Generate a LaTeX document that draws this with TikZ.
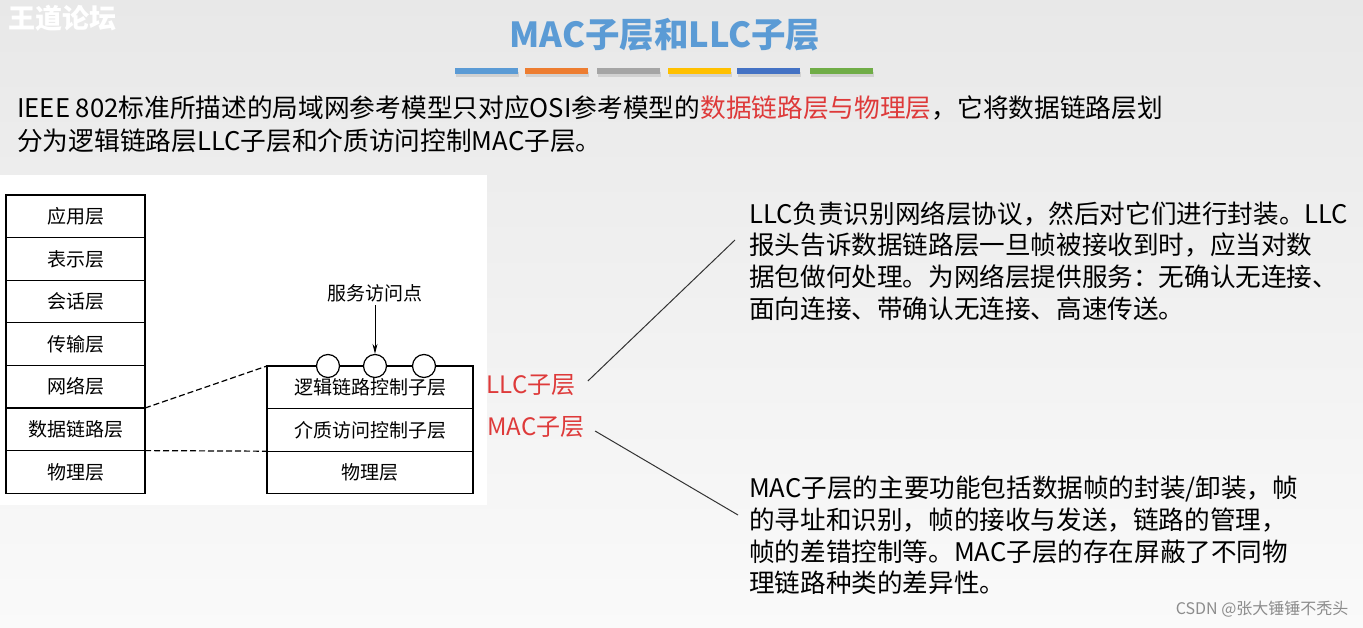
\documentclass[tikz,border=0pt]{standalone}
\usepackage{fontspec}
\setmainfont{Noto Sans CJK SC}
\usepackage{tikz}
\usetikzlibrary{positioning,arrows.meta}
\definecolor{titleblue}{RGB}{91,155,213}
\definecolor{textred}{RGB}{222,58,58}
\definecolor{barblue}{RGB}{91,155,213}
\definecolor{barorange}{RGB}{237,125,49}
\definecolor{bargray}{RGB}{165,165,165}
\definecolor{bargold}{RGB}{255,192,0}
\definecolor{bardark}{RGB}{68,114,196}
\definecolor{bargreen}{RGB}{112,173,71}
\tikzstyle{layer} = [ rectangle, draw = black, line width = 1.2pt, %
                      minimum width = 139pt, minimum height = 42.6pt, %
                      inner sep = 0pt, outer sep = 0pt, %
                      font = \fontsize{19}{19}\selectfont ]
\tikzstyle{sublayer} = [ layer, minimum width = 206pt ]
\tikzstyle{sap} = [ circle, draw = black, line width = 1.2pt, fill = white, %
                    minimum size = 23pt, inner sep = 0pt ]
\tikzstyle{redlab} = [ text = textred, font = \fontsize{24}{24}\selectfont ]
\tikzstyle{note} = [ anchor = north west, align = left, inner sep = 0pt, %
                     font = \fontsize{25.6}{31.7}\selectfont ]
\tikzstyle{arrow} = [line width=1pt,->,>={Stealth[length=10pt,width=5pt]}]
\tikzstyle{pointer} = [line width=1pt, draw=black!80]
\tikzstyle{dashline} = [line width=1.2pt, dash pattern=on 6pt off 3pt]

\begin{document}
\begin{tikzpicture}[x=1pt, y=-1pt, node distance = 0pt]
      % Background
      \useasboundingbox (0,0) rectangle (1363,628);
      \shade[top color=black!9, bottom color=black!2] (0,0) rectangle (1363,628);
      \fill[white] (0,175) rectangle (487,505);
      % Heading
      \node (wd) [anchor=west, text=white, font=\fontsize{27}{27}\selectfont\bfseries] at (5,18) {王道论坛};
      \node (title) [text=titleblue, font=\fontsize{34.5}{34.5}\selectfont\bfseries] at (665,35) {MAC子层和LLC子层};
      \foreach \c/\x in {barblue/455, barorange/525, bargray/597, bargold/668, bardark/737, bargreen/810}
        {\fill[black!18] (\x+1,72) rectangle (\x+64,77);
         \fill[\c] (\x,68) rectangle (\x+63,74);}
      \node (intro) [anchor=north west, align=left, inner sep=0pt, %
                     font=\fontsize{25.7}{33}\selectfont] at (17,96)
        {IEEE 802标准所描述的局域网参考模型只对应OSI参考模型的\textcolor{textred}{数据链路层与物理层}，它将数据链路层划\\
         分为逻辑链路层LLC子层和介质访问控制MAC子层。};
      % OSI stack
      \node (app) [layer] at (75.5,216.3) {应用层};
      \node (pre) [layer,below=of app] {表示层};
      \node (ses) [layer,below=of pre] {会话层};
      \node (tra) [layer,below=of ses] {传输层};
      \node (net) [layer,below=of tra] {网络层};
      \node (dl)  [layer,below=of net] {数据链路层};
      \node (phy) [layer,below=of dl]  {物理层};
      % IEEE 802 stack
      \node (llc)  [sublayer] at (370,387.3) {逻辑链路控制子层};
      \node (mac)  [sublayer,below=of llc] {介质访问控制子层};
      \node (phy2) [sublayer,below=of mac] {物理层};
      \node (sap1) [sap] at ([xshift=-42pt]llc.north) {};
      \node (sap2) [sap] at ([xshift=5pt]llc.north) {};
      \node (sap3) [sap] at ([xshift=54pt]llc.north) {};
      \draw[line width=1.2pt] (sap1) -- (sap2) (sap2) -- (sap3);
      \node (saplab) [font=\fontsize{19}{19}\selectfont] at (375,293) {服务访问点};
      \draw [arrow] (saplab) -- (sap2);
      \draw [dashline] (dl.north east) -- (llc.north west);
      \draw [dashline] (phy.north east) -- (phy2.north west);
      % Sublayer labels
      \node (llclab) [redlab] at (531,385) {LLC子层};
      \node (maclab) [redlab] at (536,427) {MAC子层};
      \coordinate (llcend) at (735,240);
      \coordinate (macend) at (738,515);
      \draw [pointer] ([xshift=9pt,yshift=4pt]llclab.east) -- (llcend);
      \draw [pointer] ([xshift=7pt,yshift=-4pt]maclab.east) -- (macend);
      % Notes
      \node (llcnote) [note] at (749,201)
        {LLC负责识别网络层协议，然后对它们进行封装。LLC\\
         报头告诉数据链路层一旦帧被接收到时，应当对数\\
         据包做何处理。为网络层提供服务：无确认无连接、\\
         面向连接、带确认无连接、高速传送。};
      \node (macnote) [note] at (749,476)
        {MAC子层的主要功能包括数据帧的封装/卸装，帧\\
         的寻址和识别，帧的接收与发送，链路的管理，\\
         帧的差错控制等。MAC子层的存在屏蔽了不同物\\
         理链路种类的差异性。};
      \node (csdn) [anchor=east, text=black!45, font=\fontsize{16}{16}\selectfont] at (1352,609) {CSDN @张大锤锤不秃头};
    \end{tikzpicture}
\end{document}
